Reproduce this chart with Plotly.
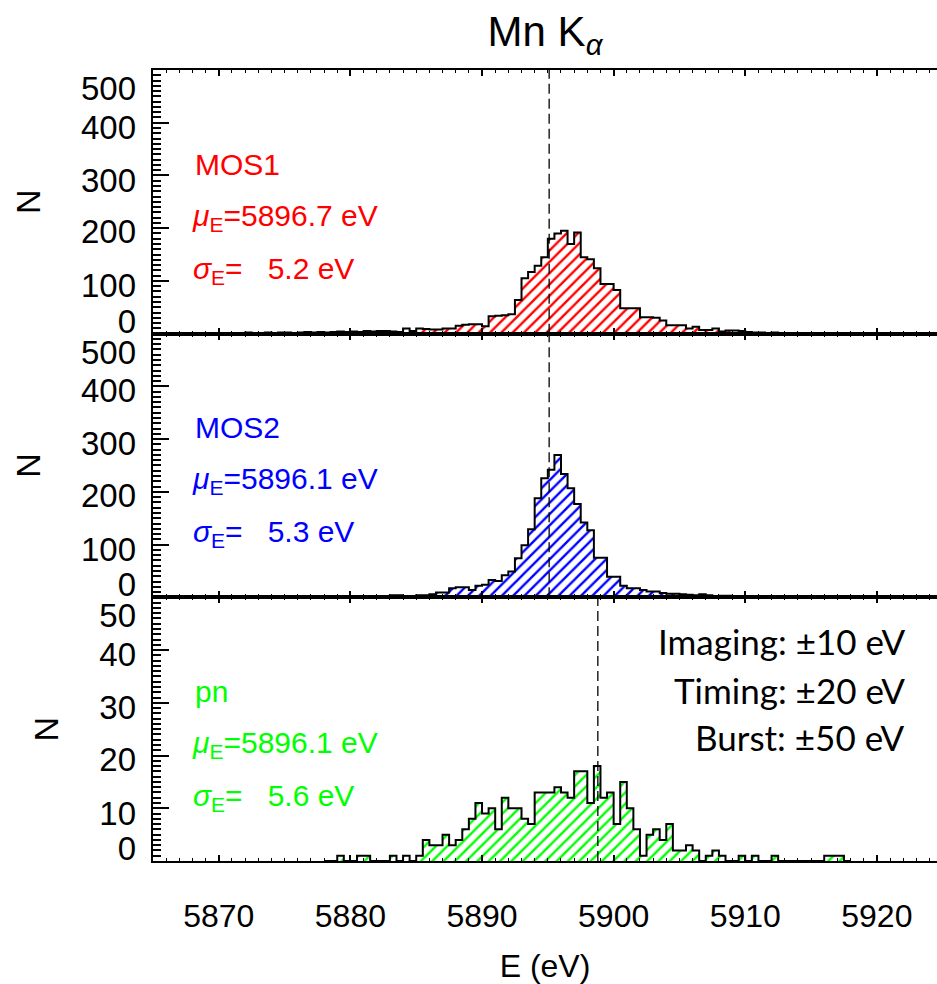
import numpy as np
import plotly.graph_objects as go

# ---------------- data ----------------
bin_width = 0.5

mos1_start = 5868.0
mos1_counts = [0, 1, 0, 1, 1, 0, 1, 1, 2, 1, 1, 2, 1, 2, 2, 1, 2, 3, 2, 3,
               2, 3, 4, 3, 4, 3, 5, 4, 5, 5, 4, 3, 10, 5, 10, 9, 8, 8, 10, 10,
               15, 17, 18, 18, 14, 33, 34, 35, 37, 64, 105, 117, 129, 145, 180, 190, 195, 170, 192, 145,
               141, 124, 94, 94, 83, 48, 48, 48, 31, 31, 30, 25, 16, 16, 16, 10, 13, 7, 7, 10,
               4, 6, 6, 5, 3, 2, 2, 1, 2, 1, 1, 0, 1, 1, 0]

mos2_start = 5868.0
mos2_counts = [0, 0, 1, 0, 0, 1, 0, 1, 1, 0, 1, 1, 0, 1, 1, 1, 2, 1, 1, 2,
               1, 2, 2, 1, 2, 2, 1, 2, 2, 2, 4, 4, 2, 2, 4, 4, 6, 9, 9, 17,
               19, 19, 14, 22, 24, 33, 31, 42, 49, 74, 99, 129, 188, 226, 242, 270, 234, 207, 177, 142,
               127, 75, 75, 39, 39, 22, 17, 17, 14, 11, 11, 8, 7, 7, 6, 5, 4, 6, 4, 2,
               3, 3, 1, 1, 2, 1, 0, 1, 1, 0, 1, 0, 0, 1, 0]

pn_start = 5878.0
pn_counts = [0, 0, 1, 0, 0, 1, 1, 0, 0, 0, 1, 0, 1, 0, 1, 4, 3, 3, 5, 3,
             4, 6, 8, 11, 9, 10, 6, 12, 10, 10, 8, 7, 13, 13, 13, 14, 13, 12, 17, 17,
             11, 18, 12, 13, 7, 15, 10, 6, 1, 5, 6, 4, 7, 2, 2, 3, 2, 0, 1, 2,
             1, 0, 0, 1, 0, 1, 0, 0, 1, 0, 0, 0, 0, 0, 0, 0, 1, 1, 1, 0]

line_energy = [5895.1, 5895.1, 5898.8]

detectors = ["MOS1", "MOS2", "pn"]
mu_values = ["5896.7", "5896.1", "5896.1"]
sigma_values = ["5.2", "5.3", "5.6"]
colors = ["#ff0000", "#0000ff", "#00ff00"]
y_max = [500, 500, 50]
y_tick_labels = ["0", "100", "200", "300", "400", "500"]
y_tick_labels_pn = ["0", "10", "20", "30", "40", "50"]
mode_text = ["Imaging: \u00b110 eV", "Timing: \u00b120 eV", "Burst: \u00b150 eV"]

# ---------------- style ----------------
FONT = "Liberation Sans, Arial, Helvetica, sans-serif"
x_range = [5865.0, 5924.57]
label_frac = [0.047, 0.182, 0.386, 0.582, 0.784, 0.93]
domains = [[2 / 3, 1.0], [1 / 3, 2 / 3], [0.0, 1 / 3]]


def step_xy(start, counts):
    counts = np.asarray(counts, dtype=float)
    n = len(counts)
    edges = start + bin_width * np.arange(n + 1)
    xs = np.concatenate([[edges[0]], edges, [edges[-1]]])
    ys = np.concatenate([[0.0], counts, [counts[-1]], [0.0]])
    return xs, ys


fig = go.Figure()
series = [(mos1_start, mos1_counts), (mos2_start, mos2_counts), (pn_start, pn_counts)]

for i, (start, counts) in enumerate(series):
    xs, ys = step_xy(start, counts)
    sfx = "" if i == 0 else str(i + 1)
    fig.add_trace(go.Scatter(
        x=xs, y=ys, mode="lines", line=dict(shape="hv", color="black", width=2),
        fill="tozeroy", fillcolor="white",
        fillpattern=dict(shape="/", fgcolor=colors[i], bgcolor="white", size=8,
                         solidity=0.3, fgopacity=1),
        xaxis="x" + sfx, yaxis="y" + sfx, showlegend=False, hoverinfo="skip"))
    fig.add_trace(go.Scatter(
        x=[line_energy[i], line_energy[i]], y=[0, y_max[i]], mode="lines",
        line=dict(color="black", width=1.3, dash="10px,5px"),
        xaxis="x" + sfx, yaxis="y" + sfx, showlegend=False, hoverinfo="skip"))
    # invisible trace so that the label (overlay) axis is drawn
    fig.add_trace(go.Scatter(
        x=[x_range[0]], y=[0], mode="markers", marker=dict(opacity=0),
        xaxis="x" + sfx, yaxis="y" + str(i + 4), showlegend=False, hoverinfo="skip"))

layout = dict(
    width=937, height=984,
    margin=dict(l=153, r=0, t=70, b=123),
    paper_bgcolor="white", plot_bgcolor="white",
    font=dict(family=FONT, color="black", size=30),
    showlegend=False,
    title=dict(text="Mn K<sub><i>\u03b1</i></sub>", font=dict(size=42, family=FONT),
               xref="paper", x=0.5, xanchor="center", yref="container", y=0.968, yanchor="middle"),
)

for i in range(3):
    sfx = "" if i == 0 else str(i + 1)
    major = 100 if i < 2 else 10
    minor = 10 if i < 2 else 1
    layout["xaxis" + sfx] = dict(
        domain=[0, 1], range=x_range, anchor="y" + sfx,
        showline=True, linecolor="black", linewidth=2, mirror="ticks",
        ticks="inside", ticklen=6, tickwidth=1.5, tickcolor="black",
        tick0=5870, dtick=10,
        minor=dict(ticks="inside", ticklen=3, tickwidth=1.2, dtick=1, tickcolor="black"),
        showgrid=False, zeroline=False, showticklabels=(i == 2),
        tickfont=dict(size=32, family=FONT), ticklabelstandoff=26,
        title=dict(text="E (eV)" if i == 2 else "", font=dict(size=32, family=FONT), standoff=28),
    )
    layout["yaxis" + sfx] = dict(
        domain=domains[i], range=[0, y_max[i]], anchor="x" + sfx,
        showline=True, linecolor="black", linewidth=2, mirror=False,
        ticks="inside", ticklen=16, tickwidth=2, tickcolor="black",
        tick0=0, dtick=major,
        minor=dict(ticks="inside", ticklen=8, tickwidth=1.5, dtick=minor, tickcolor="black"),
        showgrid=False, zeroline=False, showticklabels=False,
    )
    labels = y_tick_labels if i < 2 else y_tick_labels_pn
    layout["yaxis" + str(i + 4)] = dict(
        overlaying="y" + sfx, anchor="x" + sfx, side="left",
        range=[0, y_max[i]], tickmode="array",
        tickvals=[f * y_max[i] for f in label_frac], ticktext=labels,
        ticks="", showline=False, showgrid=False, zeroline=False,
        tickfont=dict(size=33, family=FONT), ticklabelstandoff=16,
        title=dict(text="N", font=dict(size=34, family=FONT), standoff=30),
    )

annotations = []
ys_text = [0.643, 0.442, 0.241]
for i in range(3):
    sfx = "" if i == 0 else str(i + 1)
    texts = [detectors[i],
             "<i>\u03bc</i><sub>E</sub>=" + mu_values[i] + " eV",
             "<i>\u03c3</i><sub>E</sub>=\u00a0\u00a0\u00a0" + sigma_values[i] + " eV"]
    xs_text = [0.051, 0.047, 0.048]
    for t, yy, xx in zip(texts, ys_text, xs_text):
        annotations.append(dict(
            text=t, xref="x" + sfx + " domain", yref="y" + sfx + " domain",
            x=xx, y=yy, xanchor="left", yanchor="middle", showarrow=False,
            font=dict(size=30, family=FONT, color=colors[i])))

for t, yy in zip(mode_text, [0.835, 0.649, 0.472]):
    annotations.append(dict(
        text=t, xref="x3 domain", yref="y3 domain", x=0.9617, y=yy,
        xanchor="right", yanchor="middle", showarrow=False,
        font=dict(size=35, family="Lato, Open Sans, sans-serif", color="black")))

layout["annotations"] = annotations
fig.update_layout(**layout)
fig.write_html("out.html")
